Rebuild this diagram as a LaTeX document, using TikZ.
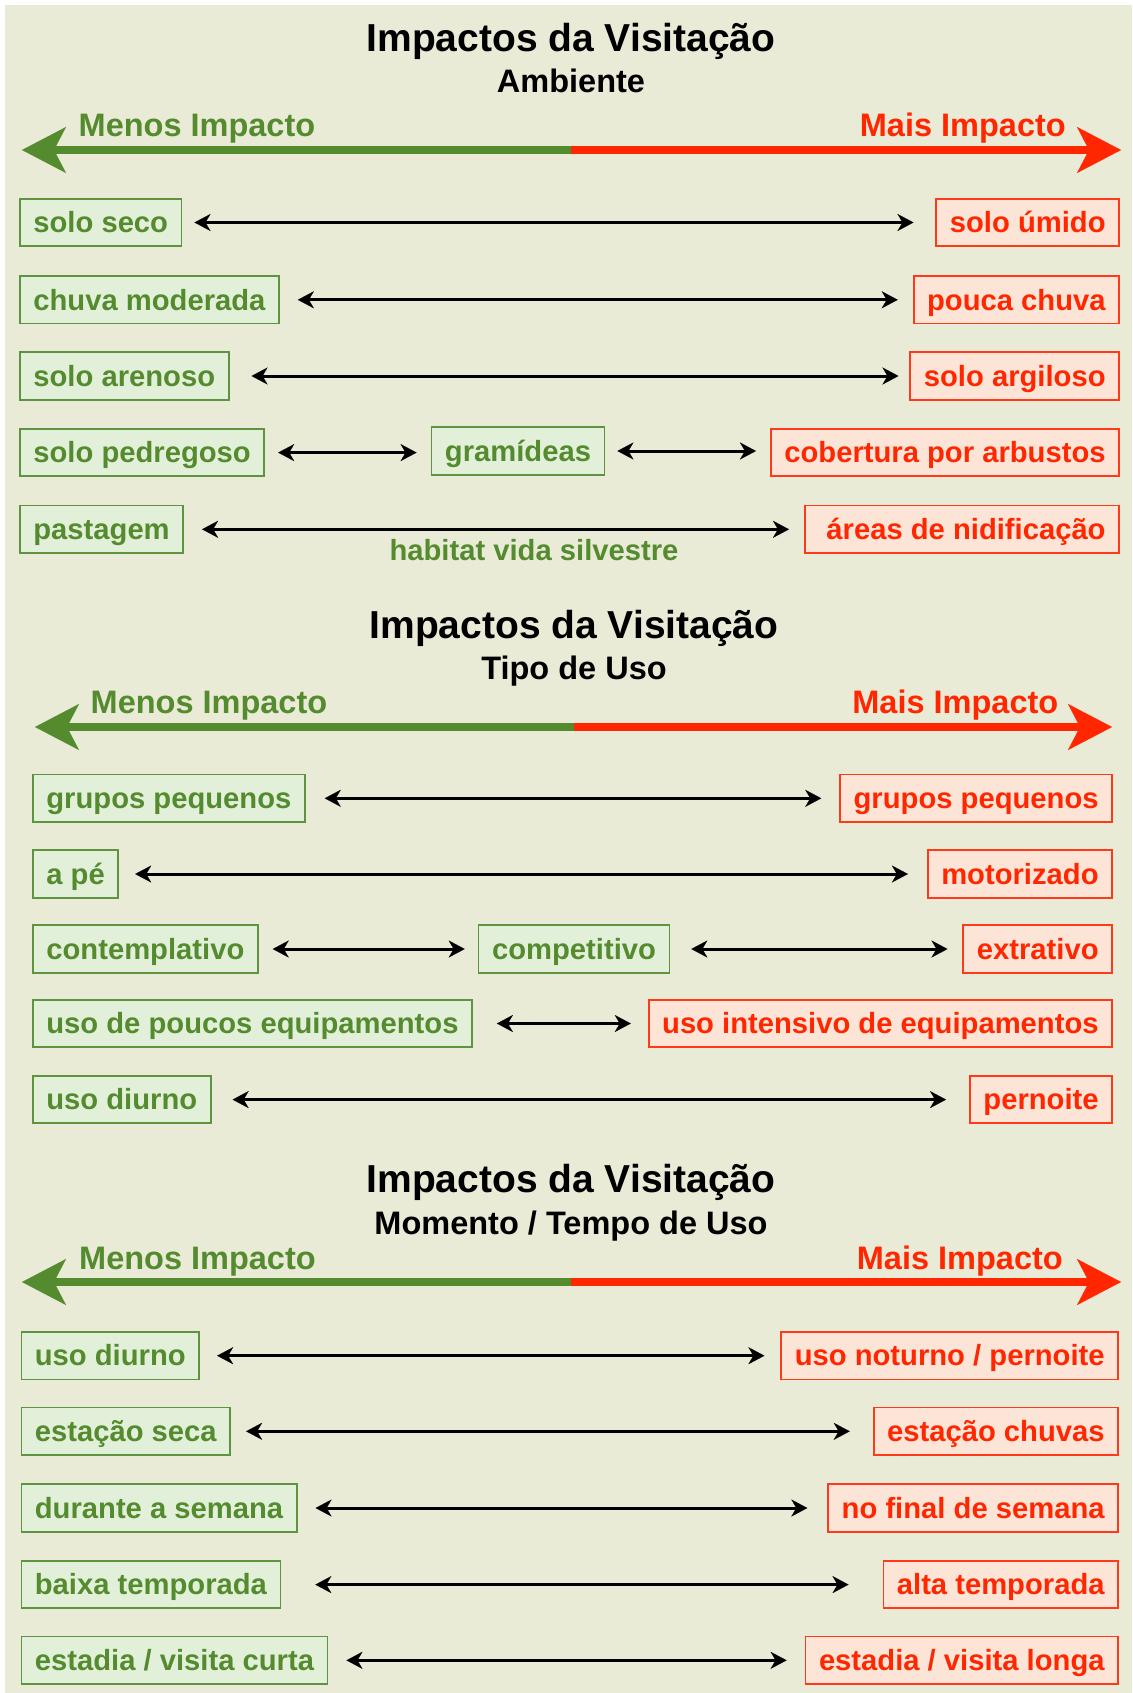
\documentclass[tikz,border=0pt]{standalone}
\usepackage{fontspec}
\setmainfont{Liberation Sans}
\usepackage{tikz}
\usetikzlibrary{arrows.meta}
\definecolor{fundo}{HTML}{EAEBD7}
\definecolor{verde}{HTML}{558B2F}
\definecolor{verdeborda}{HTML}{5E9440}
\definecolor{verdefundo}{HTML}{E3F0D9}
\definecolor{vermelho}{HTML}{FF2600}
\definecolor{vermelhoborda}{HTML}{FF3A1A}
\definecolor{vermelhofundo}{HTML}{FCE5D7}
\newcommand{\caixa}{\fontsize{29.2}{34}\selectfont\bfseries}
\newcommand{\titulo}{\fontsize{39}{45}\selectfont\bfseries}
\newcommand{\subtitulo}{\fontsize{32.5}{37}\selectfont\bfseries}
\newcommand{\extremo}{\fontsize{32.5}{37}\selectfont\bfseries}

\begin{document}
\begin{tikzpicture}[x=1pt,y=-1pt,
        menos/.style={draw=verdeborda, fill=verdefundo, text=verde, line width=1.8pt,
          inner xsep=13.5pt, inner ysep=0pt, minimum height=47.5pt, text height=22pt, text depth=1.5pt, font=\caixa},
        mais/.style={draw=vermelhoborda, fill=vermelhofundo, text=vermelho, line width=1.8pt,
          inner xsep=13.5pt, inner ysep=0pt, minimum height=47.5pt, text height=22pt, text depth=1.5pt, font=\caixa},
        duplo/.style={line width=3pt, {Stealth[length=16pt,width=17pt,inset=5pt,line width=0.1pt]}-{Stealth[length=16pt,width=17pt,inset=5pt,line width=0.1pt]}},
        eixoverde/.style={line width=8.7pt, verde, -{Stealth[length=44pt,width=46pt,inset=12pt,line width=0.1pt]}},
        eixovermelho/.style={line width=8.7pt, vermelho, -{Stealth[length=44pt,width=46pt,inset=12pt,line width=0.1pt]}}]
        \useasboundingbox (0,0) rectangle (1132,1693);
        \fill[white] (0,0) rectangle (1132,1693);
        \fill[fundo] (5,5) rectangle (1132,1693);
        % Ambiente: titulo e eixo
        \node[font=\titulo, anchor=base] (t1) at (571,52) {Impactos da Visitação};
        \node[font=\subtitulo, anchor=base] (st1) at (571,93) {Ambiente};
        \node[font=\extremo, text=verde, anchor=base west, inner sep=0pt] (me1) at (78.5,137) {Menos Impacto};
        \node[font=\extremo, text=vermelho, anchor=base east, inner sep=0pt] (ma1) at (1066,137) {Mais Impacto};
        \coordinate (m1) at (571,150);
        \coordinate (e1) at (22,150);
        \coordinate (d1) at (1121,150);
        \draw[ eixoverde] (m1) -- (e1);
        \draw[ eixovermelho] (m1) -- (d1);
        % Ambiente: pares
        \node[menos, anchor=west] (amb1e) at (19,222.5) {solo seco};
        \node[mais, anchor=east] (amb1d) at (1120,222.5) {solo úmido};
        \node[menos, anchor=west] (amb2e) at (19,299.8) {chuva moderada};
        \node[mais, anchor=east] (amb2d) at (1120,299.8) {pouca chuva};
        \node[menos, anchor=west] (amb3e) at (19,376) {solo arenoso};
        \node[mais, anchor=east] (amb3d) at (1120,376) {solo argiloso};
        \node[menos, anchor=west] (amb4e) at (19,452.6) {solo pedregoso};
        \node[menos] (amb4m) at (518,451) {gramídeas};
        \node[mais, anchor=east] (amb4d) at (1120,452.6) {cobertura por arbustos};
        \node[menos, anchor=west] (amb5e) at (19,529.3) {pastagem};
        \node[mais, anchor=east] (amb5d) at (1120,529.3) {\ áreas de nidificação};
        \node[font=\caixa, text=verde] (hab) at (534,550) {habitat vida silvestre};
        %
        \draw[ duplo, shorten <=12pt, shorten >=22pt] (amb1e) -- (amb1d);
        \draw[ duplo, shorten <=18pt, shorten >=15pt] (amb2e) -- (amb2d);
        \draw[ duplo, shorten <=22pt, shorten >=11pt] (amb3e) -- (amb3d);
        \draw[ duplo, shorten <=13pt, shorten >=14pt] (amb4e) -- (amb4e -| amb4m.west);
        \draw[ duplo, shorten <=12pt, shorten >=14pt] (amb4m) -- (amb4m -| amb4d.west);
        \draw[ duplo, shorten <=18pt, shorten >=15pt] (amb5e) -- (amb5d);
        % Tipo de Uso: titulo e eixo
        \node[font=\titulo, anchor=base] (t2) at (574,638.5) {Impactos da Visitação};
        \node[font=\subtitulo, anchor=base] (st2) at (574,679) {Tipo de Uso};
        \node[font=\extremo, text=verde, anchor=base west, inner sep=0pt] (me2) at (90.5,713) {Menos Impacto};
        \node[font=\extremo, text=vermelho, anchor=base east, inner sep=0pt] (ma2) at (1058.5,713) {Mais Impacto};
        \coordinate (m2) at (574,727);
        \coordinate (e2) at (35,727);
        \coordinate (d2) at (1112,727);
        \draw[ eixoverde] (m2) -- (e2);
        \draw[ eixovermelho] (m2) -- (d2);
        % Tipo de Uso: pares
        \node[menos, anchor=west] (uso1e) at (32,798.3) {grupos pequenos};
        \node[mais, anchor=east] (uso1d) at (1113,798.3) {grupos pequenos};
        \node[menos, anchor=west] (uso2e) at (32,874) {a pé};
        \node[mais, anchor=east] (uso2d) at (1113,874) {motorizado};
        \node[menos, anchor=west] (uso3e) at (32,949) {contemplativo};
        \node[menos] (uso3m) at (574,949) {competitivo};
        \node[mais, anchor=east] (uso3d) at (1113,949) {extrativo};
        \node[menos, anchor=west] (uso4e) at (32,1023.5) {uso de poucos equipamentos};
        \node[mais, anchor=east] (uso4d) at (1113,1023.5) {uso intensivo de equipamentos};
        \node[menos, anchor=west] (uso5e) at (32,1099.6) {uso diurno};
        \node[mais, anchor=east] (uso5d) at (1113,1099.6) {pernoite};
        %
        \draw[ duplo, shorten <=19pt, shorten >=18pt] (uso1e) -- (uso1d);
        \draw[ duplo, shorten <=16pt, shorten >=19pt] (uso2e) -- (uso2d);
        \draw[ duplo, shorten <=14pt, shorten >=13pt] (uso3e) -- (uso3m);
        \draw[ duplo, shorten <=21pt, shorten >=15pt] (uso3m) -- (uso3d);
        \draw[ duplo, shorten <=24pt, shorten >=17pt] (uso4e) -- (uso4d);
        \draw[ duplo, shorten <=21pt, shorten >=23pt] (uso5e) -- (uso5d);
        % Momento / Tempo de Uso: titulo e eixo
        \node[font=\titulo, anchor=base] (t3) at (571,1192.5) {Impactos da Visitação};
        \node[font=\subtitulo, anchor=base] (st3) at (571,1234) {Momento / Tempo de Uso};
        \node[font=\extremo, text=verde, anchor=base west, inner sep=0pt] (me3) at (79,1269.5) {Menos Impacto};
        \node[font=\extremo, text=vermelho, anchor=base east, inner sep=0pt] (ma3) at (1063,1269.5) {Mais Impacto};
        \coordinate (m3) at (571,1282);
        \coordinate (e3) at (22,1282);
        \coordinate (d3) at (1121,1282);
        \draw[ eixoverde] (m3) -- (e3);
        \draw[ eixovermelho] (m3) -- (d3);
        % Momento / Tempo de Uso: pares
        \node[menos, anchor=west] (mom1e) at (20.5,1355.7) {uso diurno};
        \node[mais, anchor=east] (mom1d) at (1119,1355.7) {uso noturno / pernoite};
        \node[menos, anchor=west] (mom2e) at (20.5,1431.3) {estação seca};
        \node[mais, anchor=east] (mom2d) at (1119,1431.3) {estação chuvas};
        \node[menos, anchor=west] (mom3e) at (20.5,1508) {durante a semana};
        \node[mais, anchor=east] (mom3d) at (1119,1508) {no final de semana};
        \node[menos, anchor=west] (mom4e) at (20.5,1584.6) {baixa temporada};
        \node[mais, anchor=east] (mom4d) at (1119,1584.6) {alta temporada};
        \node[menos, anchor=west] (mom5e) at (20.5,1660.3) {estadia / visita curta};
        \node[mais, anchor=east] (mom5d) at (1119,1660.3) {estadia / visita longa};
        %
        \draw[ duplo, shorten <=17pt, shorten >=16pt] (mom1e) -- (mom1d);
        \draw[ duplo, shorten <=15pt, shorten >=23pt] (mom2e) -- (mom2d);
        \draw[ duplo, shorten <=18pt, shorten >=20pt] (mom3e) -- (mom3d);
        \draw[ duplo, shorten <=34pt, shorten >=34pt] (mom4e) -- (mom4d);
        \draw[ duplo, shorten <=18pt, shorten >=18pt] (mom5e) -- (mom5d);
\end{tikzpicture}
\end{document}
